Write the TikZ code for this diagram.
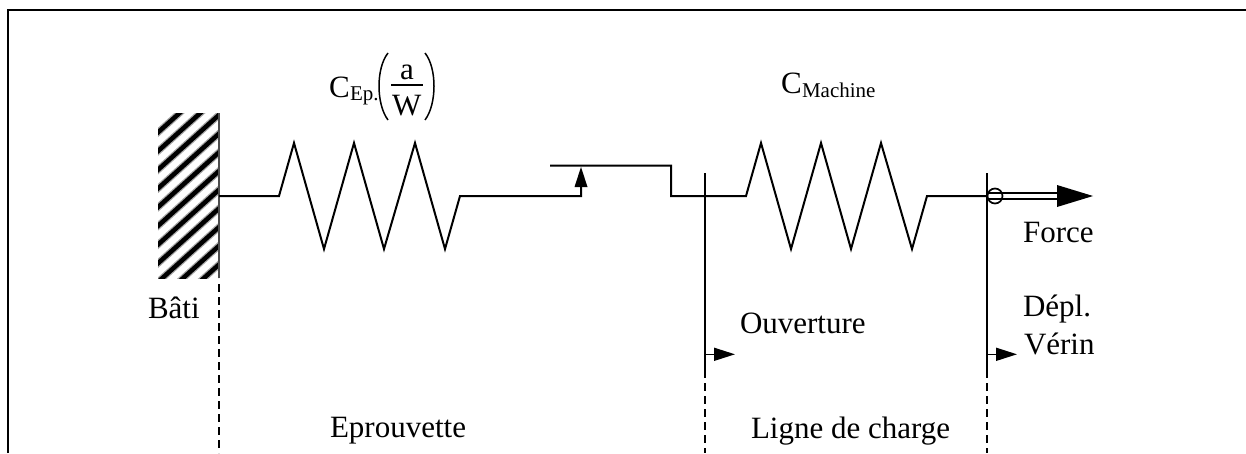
\documentclass[tikz,border=0pt]{standalone}
\usepackage{fontspec}
\setmainfont{Liberation Serif}
\usetikzlibrary{arrows.meta}
\tikzset{
  x=1pt,y=-1pt,
  wire/.style={line width=2pt,line join=miter,line cap=butt},
  thinwire/.style={line width=2pt},
  dashline/.style={line width=1.8pt,dash pattern=on 8pt off 5pt},
  lbl/.style={anchor=base west,inner sep=0pt,outer sep=0pt,font=\fontsize{31}{34}\selectfont},
  sub/.style={anchor=base west,inner sep=0pt,outer sep=0pt,font=\fontsize{21}{24}\selectfont},
  smallhead/.style={-{Triangle[length=21pt,width=13pt]}},
}
\begin{document}
\begin{tikzpicture}
\useasboundingbox (0,0) rectangle (1246,453);
% frame (top and left only)
\draw[line width=2.6pt] (8,453) -- (8,10) -- (1246,10);
% hatched block
\begin{scope}
\clip (158,113) rectangle (219,278);
\foreach \k in {0,...,12} {
  \draw[line width=7pt,black!35] (150,{139.6+18.7*\k}) -- (230,{139.6+18.7*\k-72});
  \draw[line width=4.5pt] (150,{139.6+18.7*\k}) -- (230,{139.6+18.7*\k-72});
}
\end{scope}
\coordinate (wallE) at (219,196);
\coordinate (jack) at (987,196);
\coordinate (sensorFoot) at (581,196);
\coordinate (sensorTip) at (581,166);
\draw[line width=1.2pt,black!70] (219,113) -- (219,278);
% spring 1 and lever
\draw[wire] (wallE) -- (279,196) -- (294,143) -- (324,249) -- (354,143) -- (384,249) -- (415,143) -- (445,249) -- (460,196) -- (sensorFoot) -- (581,186);
\draw[wire] (550,165.7) -- (671,165.7) -- (671,196) -- (746,196) -- (761,143) -- (791,249) -- (821,143) -- (851,249) -- (881,143) -- (912,249) -- (927,196) -- (jack);
\fill (sensorTip) ++(0,1) -- (587.5,187) -- (574.5,187) -- cycle;
% measurement lines
\draw[thinwire] (705,173) -- (705,370);
\draw[thinwire] (jack |- 0,173) -- (jack |- 0,370);
\draw[dashline] (219,284) -- (219,453);
\draw[dashline] (705,370) -- (705,453);
\draw[dashline] (987,370) -- (987,453);
% small arrows
\draw[line width=1.6pt,smallhead] (705,354.3) -- (735,354.3);
\draw[line width=1.6pt,smallhead] (987,354.3) -- (1017,354.3);
% force
\draw[line width=1.7pt] (995,196) circle (7.5);
\draw[line width=1.9pt] (988,193) -- (1058,193);
\draw[line width=1.9pt] (988,198.7) -- (1058,198.7);
\fill (1093,196) -- (1057,185) -- (1057,207) -- cycle;
% labels
\node[lbl] (cep) at (329,97) {C};
\node[sub] (ep) at (350,100.5) {Ep.};
\node[lbl] (a) at (400,79) {a};
\node[lbl] (w) at (392,115) {W};
\draw[line width=1.7pt] (391,85) -- (423,85);
\draw[line width=1.5pt] (388,53) .. controls (376,68) and (376,104) .. (388,120);
\draw[line width=1.5pt] (425,53) .. controls (437,68) and (437,104) .. (425,120);
\node[lbl] (cm) at (781,93) {C};
\node[sub] (mach) at (802,97) {Machine};
\node[lbl] (bati) at (148,318) {Bâti};
\node[lbl] (force) at (1023,242) {Force};
\node[lbl] (depl) at (1023,316) {Dépl.};
\node[lbl] (verin) at (1024,354) {Vérin};
\node[lbl] (ouv) at (740,333) {Ouverture};
\node[lbl] (epr) at (330,437) {Eprouvette};
\node[lbl] (ligne) at (751,438) {Ligne de charge};
\end{tikzpicture}
\end{document}
